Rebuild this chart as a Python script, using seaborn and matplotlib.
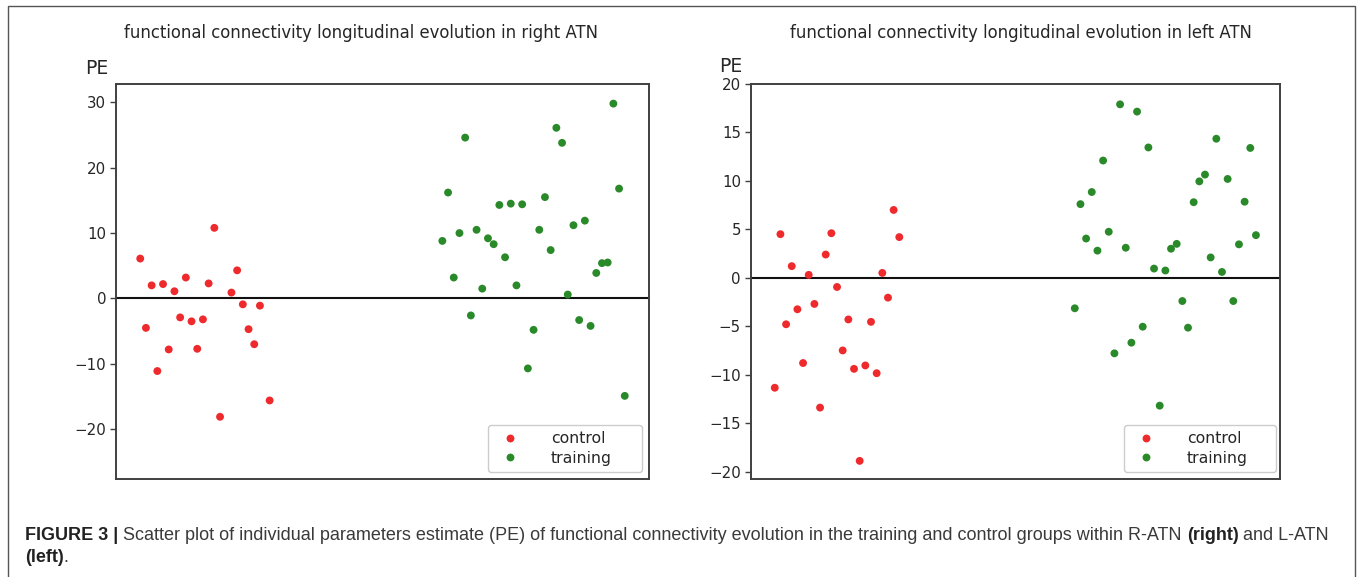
import matplotlib
matplotlib.use("Agg")
import matplotlib.pyplot as plt
import seaborn as sns
import pandas as pd
from matplotlib import font_manager
from matplotlib.patches import Rectangle

# ---------------- data ----------------
groups = ["control", "training"]

# right ATN
right_control_x = [0, 1, 2, 3, 4, 5, 6, 7, 8, 9, 10, 11, 12, 13, 14, 16, 17, 18, 19, 20, 21, 22.7]
right_control_pe = [6.1, -4.5, 2.0, -11.1, 2.2, -7.8, 1.1, -2.9, 3.2, -3.5, -7.7, -3.2, 2.3, 10.8,
                    -18.1, 0.9, 4.3, -0.9, -4.7, -7.0, -1.1, -15.6]
right_training_x = [53, 54, 55, 56, 57, 58, 59, 60, 61, 62, 63, 64, 65, 66, 67, 68, 69, 70, 71, 72,
                    73, 74, 75, 76, 77, 78, 79, 80, 81, 82, 83, 84, 85]
right_training_pe = [8.8, 16.2, 3.2, 10.0, 24.6, -2.6, 10.5, 1.5, 9.2, 8.3, 14.3, 6.3, 14.5, 2.0,
                     14.4, -10.7, -4.8, 10.5, 15.5, 7.4, 26.1, 23.8, 0.6, 11.2, -3.3, 11.9, -4.2,
                     3.9, 5.4, 5.5, 29.8, 16.8, -14.9]

# left ATN
left_control_x = [0, 1, 2, 3, 4, 5, 6, 7, 8, 9, 10, 11, 12, 13, 14, 15, 16, 17, 18, 19, 20, 21, 22]
left_control_pe = [-11.35, 4.5, -4.8, 1.2, -3.25, -8.8, 0.3, -2.7, -13.4, 2.4, 4.6, -0.95, -7.5,
                   -4.3, -9.4, -18.9, -9.05, -4.55, -9.85, 0.5, -2.05, 7.0, 4.2]
left_training_x = [53, 54, 55, 56, 57, 58, 59, 60, 61, 62, 63, 64, 65, 66, 67, 68, 69, 70, 71, 72,
                   73, 74, 75, 76, 77, 78, 79, 80, 81, 82, 83, 84, 85]
left_training_pe = [-3.15, 7.6, 4.05, 8.85, 2.8, 12.1, 4.75, -7.8, 17.9, 3.1, -6.7, 17.15, -5.05,
                    13.45, 0.95, -13.2, 0.75, 3.0, 3.5, -2.4, -5.15, 7.8, 9.95, 10.65, 2.1, 14.35,
                    0.6, 10.2, -2.4, 3.45, 7.85, 13.4, 4.4]

right_yticks = [-20, -10, 0, 10, 20, 30]
left_yticks = [-20, -15, -10, -5, 0, 5, 10, 15, 20]

title_right = "functional connectivity longitudinal evolution in right ATN"
title_left = "functional connectivity longitudinal evolution in left ATN"

# ---------------- style ----------------
sns.set_style("ticks")
plt.rcParams['font.family'] = ['DejaVu Sans']

RED = "#ee2a2d"
GREEN = "#2a8a2a"
SPINE = "#404040"
TXT = "#262626"

W, H = 1357, 577
fig = plt.figure(figsize=(W / 100, H / 100), dpi=100)


def ax_rect(l, t, r, b):
    return [l / W, 1 - b / H, (r - l) / W, (b - t) / H]


axL = fig.add_axes(ax_rect(116, 84, 649, 479.3))
axR = fig.add_axes(ax_rect(750.7, 84, 1280, 479.3))


def panel(ax, cx, cy, tx, ty, ylim, yticks, leg_box):
    df = pd.DataFrame({
        "subject": list(cx) + list(tx),
        "PE": list(cy) + list(ty),
        "group": [groups[0]] * len(cx) + [groups[1]] * len(tx),
    })
    sns.scatterplot(data=df, x="subject", y="PE", hue="group", hue_order=groups,
                    palette={"control": RED, "training": GREEN}, s=32, linewidth=0,
                    ax=ax, zorder=3)
    ax.axhline(0, color="#111111", lw=1.5, zorder=2)
    ax.set_xlim(-4.25, 89.25)
    ax.set_ylim(*ylim)
    ax.set_xticks([])
    ax.set_yticks(yticks)
    ax.set_yticklabels([("\u2212" + str(-v)) if v < 0 else str(v) for v in yticks])
    ax.set_xlabel("")
    ax.set_ylabel("")
    for sp in ax.spines.values():
        sp.set_visible(True)
        sp.set_color(SPINE)
        sp.set_linewidth(1.4)
    ax.tick_params(axis="y", length=4, width=1, color=SPINE, labelsize=10.8,
                   labelcolor=TXT, pad=3)
    handles, labels = ax.get_legend_handles_labels()
    leg = ax.legend(handles, labels, loc="lower left", bbox_to_anchor=leg_box,
                    mode="expand", borderaxespad=0, handletextpad=1.6,
                    fontsize=11.3, frameon=True, fancybox=True, edgecolor="#cccccc",
                    framealpha=1.0, labelspacing=0.3, borderpad=0.4)
    for t in leg.get_texts():
        t.set_color(TXT)


panel(axL, right_control_x, right_control_pe, right_training_x, right_training_pe,
      (-27.66, 32.8), right_yticks, (0.698, 0.0185, 0.289, 0.12))
panel(axR, left_control_x, left_control_pe, left_training_x, left_training_pe,
      (-20.8, 20.0), left_yticks, (0.705, 0.0185, 0.2875, 0.12))

# titles and PE labels
fig.text(361 / W, 1 - 33 / H, title_right, ha="center", va="center", fontsize=11.9, color=TXT)
fig.text(1021 / W, 1 - 33 / H, title_left, ha="center", va="center", fontsize=11.9, color=TXT)
fig.text(96.5 / W, 1 - 68 / H, "PE", ha="center", va="center", fontsize=13.5, color=TXT)
fig.text(731 / W, 1 - 67 / H, "PE", ha="center", va="center", fontsize=13.5, color=TXT)

# outer frame
fig.patches.append(Rectangle((8 / W, -0.02), (1355 - 8) / W, 1.02 - 6 / H,
                             transform=fig.transFigure, fill=False,
                             edgecolor="#555555", lw=1.0))

# caption
names = {f.name for f in font_manager.fontManager.ttflist}
cap_font = "Liberation Sans Narrow" if "Liberation Sans Narrow" in names else "Liberation Sans"
renderer = fig.canvas.get_renderer()

line1 = [("FIGURE 3 | ", "bold"),
         ("Scatter plot of individual parameters estimate (PE) of functional connectivity evolution in the training and control groups within R-ATN ", "normal"),
         ("(right)", "bold"), (" and L-ATN", "normal")]
line2 = [("(left)", "bold"), (".", "normal")]


def measure(runs, size):
    w = 0
    for txt, wt in runs:
        t = fig.text(0, 0, txt, fontsize=size, fontweight=wt, family=cap_font)
        w += t.get_window_extent(renderer).width
        t.remove()
    return w


base = 10.0
cap_size = base * 1307 / measure(line1, base)


def draw(runs, x_px, y_px, size):
    x = x_px
    for txt, wt in runs:
        t = fig.text(x / W, 1 - y_px / H, txt, fontsize=size, fontweight=wt,
                     family=cap_font, color="#222222" if wt == "bold" else "#3a3a3a",
                     ha="left", va="baseline")
        x += t.get_window_extent(renderer).width


draw(line1, 25, 540, cap_size)
draw(line2, 25, 562, cap_size)

fig.savefig("out.png", dpi=100)
